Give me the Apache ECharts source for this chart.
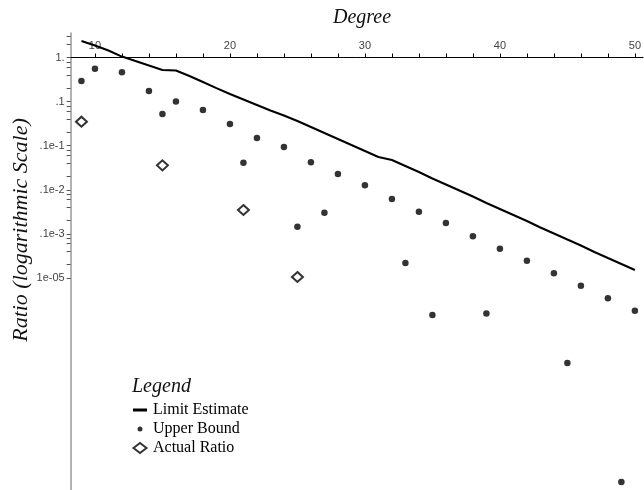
<!DOCTYPE html>
<html><head><meta charset="utf-8">
<script src="https://cdn.jsdelivr.net/npm/echarts@6/dist/echarts.min.js"></script>
<style>html,body{margin:0;padding:0;background:#fff}#c{width:644px;height:490px}</style>
</head><body><div id="c"></div>
<script>
// ---- data ----
const limitDegrees = [9,10,11,12,13,14,15,16,17,18,19,20,21,22,23,24,25,26,27,28,29,30,31,32,33,34,35,36,37,38,39,40,41,42,43,44,45,46,47,48,49,50];
const limitEstimate = [2.37,1.87,1.44,1.05,0.833,0.659,0.521,0.507,0.381,0.278,0.203,0.1487,0.1116,0.0837,0.0628,0.0484,0.0363,0.02655,0.01941,0.01419,0.01037,0.00758,0.00554,0.00474,0.003465,0.002533,0.001804,0.001319,9.64e-4,7.05e-4,5.02e-4,3.67e-4,2.68e-4,1.96e-4,1.397e-4,1.021e-4,7.46e-5,5.46e-5,3.89e-5,2.84e-5,2.08e-5,1.519e-5];
const upperDegrees = [9,10,12,14,15,16,18,20,21,22,24,25,26,27,28,30,32,33,34,35,36,38,39,40,42,44,45,46,48,49,50];
const upperBound = [0.2932,0.557,0.4618,0.174,0.0523,0.1005,0.0645,0.03105,0.004115,0.01495,0.00934,1.457e-4,0.004204,3.025e-4,0.002282,0.001265,6.185e-4,2.19e-5,3.187e-4,1.449e-6,1.767e-4,8.82e-5,1.567e-6,4.62e-5,2.467e-5,1.278e-5,1.182e-7,6.69e-6,3.465e-6,2.365e-10,1.814e-6];
const actualDegrees = [9,15,21,25];
const actualRatio = [0.0350,0.003594,3.483e-4,1.054e-5];
const xLabelValues = [10,20,30,40,50];
const xTickValues = [10,12,14,16,18,20,22,24,26,28,30,32,34,36,38,40,42,44,46,48,50];
const yLabelValues = [1,0.1,0.01,0.001,0.0001,0.00001];
const yLabelTexts = ['1.','.1','.1e-1','.1e-2','.1e-3','1e-05'];
const yTickValues = [3,2,1,0.8,0.6,0.4,0.2,0.1,0.08,0.06,0.04,0.02,0.01,0.008,0.006,0.004,0.002,0.001,8e-4,6e-4,4e-4,2e-4,1e-4,8e-5,6e-5,4e-5,2e-5,1e-5];
const seriesNames = ['Limit Estimate','Upper Bound','Actual Ratio'];

const chart = echarts.init(document.getElementById('c'), null, {renderer:'canvas'});
const serif = "'Liberation Serif','Times New Roman',serif";
const sans = "'Liberation Sans',Arial,sans-serif";
chart.setOption({
  animation:false,
  backgroundColor:'#fff',
  grid:{left:70.65, right:0, top:33, bottom:0, containLabel:false},
  xAxis:{
    type:'value', position:'top', offset:-24.5, min:8.2, max:50.6,
    axisLine:{onZero:false, lineStyle:{color:'#000', width:1}},
    axisTick:{show:true, customValues:xTickValues, length:4, lineStyle:{color:'#000'}},
    axisLabel:{customValues:xLabelValues, margin:6, fontSize:11, color:'#444', fontFamily:sans},
    splitLine:{show:false}
  },
  yAxis:{
    type:'log', min:1.56e-10, max:3.594,
    axisLine:{show:true, lineStyle:{color:'#999', width:1.5}},
    axisTick:{show:true, customValues:yTickValues, length:4, lineStyle:{color:'#555'}},
    axisLabel:{customValues:yLabelValues, margin:6, fontSize:11, color:'#444', fontFamily:sans,
      formatter:function(v){
        for (let i=0;i<yLabelValues.length;i++){
          if (Math.abs(Math.log10(v)-Math.log10(yLabelValues[i]))<1e-6) return yLabelTexts[i];
        }
        return '';
      }},
    splitLine:{show:false}
  },
  legend:{
    orient:'vertical', left:131, top:401, padding:0, itemWidth:16, itemHeight:14, itemGap:1,
    selectedMode:false,
    textStyle:{fontFamily:serif, fontSize:16, color:'#000', lineHeight:18},
    data:[
      {name:seriesNames[0], icon:'path://M0,0M16,14M1,5.5H15V8.5H1Z', itemStyle:{color:'#000'}},
      {name:seriesNames[1], icon:'path://M0,0M16,14M8,4.5A2.5,2.5,0,1,1,8,9.5A2.5,2.5,0,1,1,8,4.5Z', itemStyle:{color:'#000'}},
      {name:seriesNames[2], icon:'path://M0,0M16,14M1.5,7L8,2L14.5,7L8,12Z', itemStyle:{color:'#fff', borderColor:'#000', borderWidth:2}}
    ]
  },
  graphic:[
    {type:'text', left:333, top:8, style:{text:'Degree', font:"italic 20px "+serif, fill:'#111'}, z:10},
    {type:'text', x:21, y:230, rotation:Math.PI/2, style:{text:'Ratio (logarithmic Scale)', font:"italic 22px "+serif, fill:'#111', align:'center', verticalAlign:'middle'}, z:10},
    {type:'text', left:132, top:377, style:{text:'Legend', font:"italic 20px "+serif, fill:'#111'}, z:10}
  ],
  series:[
    {name:seriesNames[0], type:'line', data:limitDegrees.map((d,i)=>[d,limitEstimate[i]]), symbol:'none',
     lineStyle:{color:'#000', width:2}, itemStyle:{color:'#000'}, z:3, clip:false},
    {name:seriesNames[1], type:'scatter', data:upperDegrees.map((d,i)=>[d,upperBound[i]]), symbol:'circle', symbolSize:6.5,
     itemStyle:{color:'#000'}, z:4},
    {name:seriesNames[2], type:'scatter', data:actualDegrees.map((d,i)=>[d,actualRatio[i]]), symbol:'diamond', symbolSize:[11,10],
     itemStyle:{color:'#fff', borderColor:'#000', borderWidth:2}, z:5}
  ]
});
</script></body></html>
